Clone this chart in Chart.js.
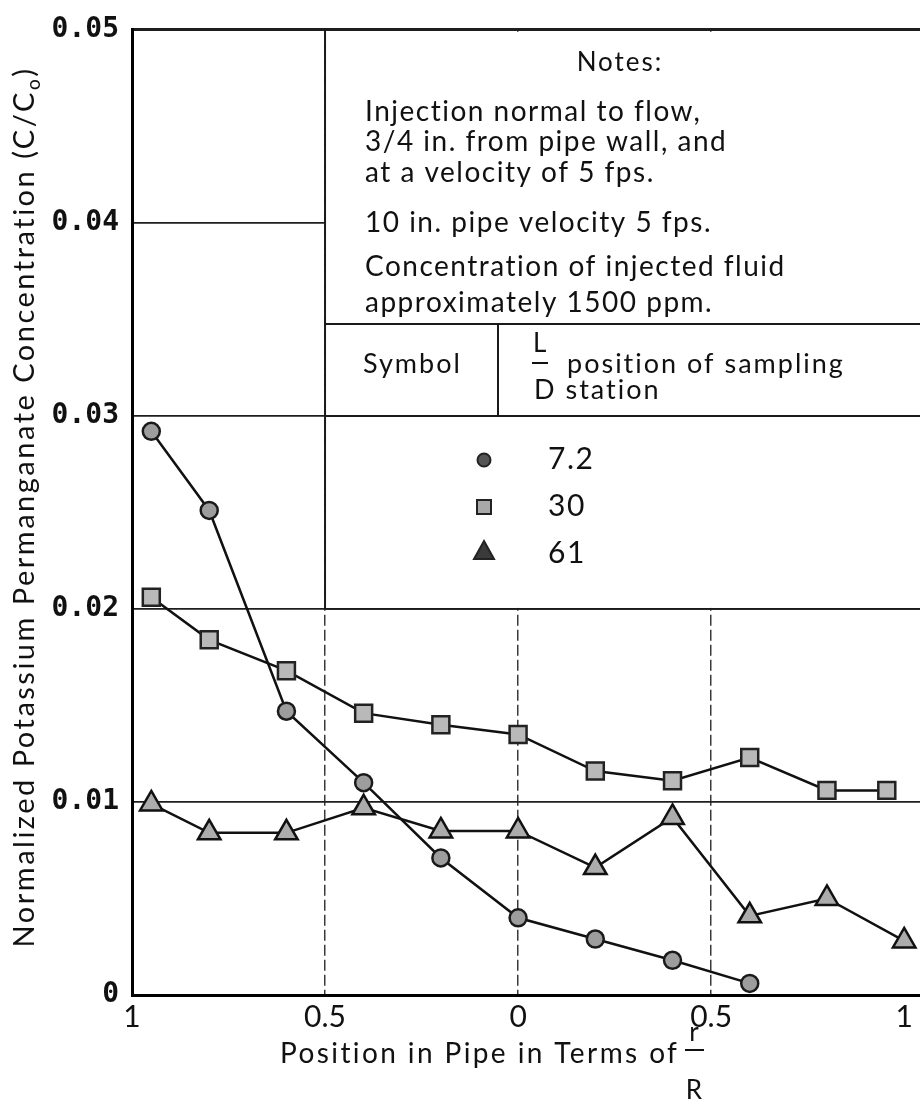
<!DOCTYPE html>
<html>
<head>
<meta charset="utf-8">
<script src="https://cdn.jsdelivr.net/npm/chart.js@4.4.1/dist/chart.umd.min.js"></script>
<style>
  html, body { margin: 0; padding: 0; background: #fff; overflow: hidden; }
  #wrap { width: 920px; height: 1104px; }
  #myChart { display: block; }
</style>
</head>
<body>
<div id="wrap"><canvas id="myChart" width="920" height="1104"></canvas></div>
<script>
// Sampling positions (r/R, wall to wall) and normalized concentration C/Co per station
var xStation72 = [-0.95, -0.8, -0.6, -0.4, -0.2, 0, 0.2, 0.4, 0.6];
var cStation72 = [0.0292, 0.0251, 0.0147, 0.0110, 0.0071, 0.0040, 0.0029, 0.0018, 0.0006];

var xStation30 = [-0.95, -0.8, -0.6, -0.4, -0.2, 0, 0.2, 0.4, 0.6, 0.8, 0.955];
var cStation30 = [0.0206, 0.0184, 0.0168, 0.0146, 0.0140, 0.0135, 0.0116, 0.0111, 0.0123, 0.0106, 0.0106];

var xStation61 = [-0.95, -0.8, -0.6, -0.4, -0.2, 0, 0.2, 0.4, 0.6, 0.8, 1.0];
var cStation61 = [0.0099, 0.0084, 0.0084, 0.0097, 0.0085, 0.0085, 0.0066, 0.0092, 0.0041, 0.0050, 0.0028];

var stationLabels = ['7.2', '30', '61'];
var xTickText = { '-1': '1', '-0.5': '0.5', '0': '0', '0.5': '0.5', '1': '1' };

var noteLines = [
    'Injection normal to flow,',
    '3/4 in. from pipe wall, and',
    'at a velocity of 5 fps.',
    '10 in. pipe velocity 5 fps.',
    'Concentration of injected fluid',
    'approximately 1500 ppm.'
];

function toPoints(xs, ys) {
    return xs.map(function (x, i) { return { x: x, y: ys[i] }; });
}

var FONT = 'Lato, "Open Sans", sans-serif';

function drawText(ctx, s, x, y, size, align, spacing) {
    ctx.font = size + 'px ' + FONT;
    ctx.textAlign = align || 'left';
    ctx.textBaseline = 'alphabetic';
    ctx.letterSpacing = (spacing === undefined ? 2 : spacing) + 'px';
    ctx.fillText(s, x, y);
    ctx.letterSpacing = '0px';
}

// notes box, symbol table and axis titles
var paperNotes = {
    id: 'paperNotes',
    beforeDatasetsDraw: function (chart) {
        var ctx = chart.ctx;
        var xs = chart.scales.x, ys = chart.scales.y;
        var left = xs.getPixelForValue(-0.5);
        var right = chart.chartArea.right;
        var top = ys.getPixelForValue(0.05);
        var bottom = ys.getPixelForValue(0.02);
        var tableLine = ys.getPixelForValue(0.03);
        var headerLine = 324;
        var divider = 498;

        ctx.save();
        ctx.fillStyle = '#fff';
        ctx.fillRect(left, top + 2, right - left, bottom - top - 3);

        ctx.strokeStyle = '#1a1a1a';
        ctx.lineWidth = 2;
        ctx.beginPath();
        ctx.moveTo(left, top); ctx.lineTo(left, bottom);
        ctx.moveTo(left, headerLine); ctx.lineTo(right, headerLine);
        ctx.moveTo(left, tableLine); ctx.lineTo(right, tableLine);
        ctx.moveTo(divider, headerLine); ctx.lineTo(divider, tableLine);
        ctx.stroke();
        ctx.lineWidth = 1.8;
        ctx.beginPath();
        ctx.moveTo(left, bottom); ctx.lineTo(right, bottom);
        ctx.stroke();

        ctx.fillStyle = '#111';
        drawText(ctx, 'Notes:', 620, 71, 26, 'center');
        var baselines = [121, 151, 182, 232, 276, 312];
        noteLines.forEach(function (line, i) {
            drawText(ctx, line, 365, baselines[i], 28, 'left', 1.5);
        });

        drawText(ctx, 'Symbol', 363, 373, 27);
        drawText(ctx, 'L', 533, 352, 26, 'left', 0);
        ctx.fillRect(532, 362, 16, 2);
        drawText(ctx, 'position of sampling', 567, 373, 27);
        drawText(ctx, 'D station', 534, 399, 27);

        // legend symbols
        var symX = 484;
        var rows = [469, 516, 563];
        ctx.lineWidth = 2;
        ctx.strokeStyle = '#222';
        ctx.fillStyle = '#555';
        ctx.beginPath();
        ctx.arc(symX, rows[0] - 9, 6.5, 0, Math.PI * 2);
        ctx.fill(); ctx.stroke();
        ctx.fillStyle = '#a8a8a8';
        ctx.fillRect(symX - 7, rows[1] - 16, 14, 14);
        ctx.strokeRect(symX - 7, rows[1] - 16, 14, 14);
        ctx.fillStyle = '#3a3a3a';
        ctx.beginPath();
        ctx.moveTo(symX, rows[2] - 22);
        ctx.lineTo(symX + 10, rows[2] - 4);
        ctx.lineTo(symX - 10, rows[2] - 4);
        ctx.closePath();
        ctx.fill(); ctx.stroke();

        ctx.fillStyle = '#111';
        stationLabels.forEach(function (lab, i) {
            drawText(ctx, lab, 548, rows[i], 30, 'left', 1.5);
        });
        ctx.restore();
    },
    afterDraw: function (chart) {
        var ctx = chart.ctx;
        ctx.save();
        ctx.fillStyle = '#111';

        // x axis title with r/R fraction
        drawText(ctx, 'Position in Pipe in Terms of', 280, 1063, 28, 'left', 2.4);
        drawText(ctx, 'r', 694, 1041, 26, 'center', 0);
        ctx.fillRect(685, 1049, 19, 2);
        drawText(ctx, 'R', 694, 1099, 26, 'center', 0);

        // y axis title with subscript o
        var main = 'Normalized Potassium Permanganate Concentration (C/C';
        ctx.translate(34, 507);
        ctx.rotate(-Math.PI / 2);
        ctx.letterSpacing = '2.5px';
        ctx.font = '29px ' + FONT;
        var w1 = ctx.measureText(main).width;
        ctx.font = '19px ' + FONT;
        var w2 = ctx.measureText('o').width;
        ctx.font = '29px ' + FONT;
        var w3 = ctx.measureText(')').width;
        var start = -(w1 + w2 + w3) / 2;
        drawText(ctx, main, start, 0, 29, 'left', 2.5);
        drawText(ctx, 'o', start + w1, 6, 19, 'left', 2.5);
        drawText(ctx, ')', start + w1 + w2, 0, 29, 'left', 2.5);
        ctx.restore();
    }
};

var ctx = document.getElementById('myChart').getContext('2d');
var chart = new Chart(ctx, {
    type: 'scatter',
    data: {
        datasets: [{
            label: stationLabels[0],
            data: toPoints(xStation72, cStation72),
            showLine: true,
            borderColor: '#111',
            borderWidth: 2.5,
            pointStyle: 'circle',
            pointRadius: 8.5,
            pointBackgroundColor: '#9d9d9d',
            pointBorderColor: '#1a1a1a',
            pointBorderWidth: 2.5,
            clip: false
        }, {
            label: stationLabels[1],
            data: toPoints(xStation30, cStation30),
            showLine: true,
            borderColor: '#111',
            borderWidth: 2.5,
            pointStyle: 'rect',
            pointRadius: 12,
            pointBackgroundColor: '#b9b9b9',
            pointBorderColor: '#222',
            pointBorderWidth: 2.5,
            clip: false
        }, {
            label: stationLabels[2],
            data: toPoints(xStation61, cStation61),
            showLine: true,
            borderColor: '#111',
            borderWidth: 2.5,
            pointStyle: 'triangle',
            pointRadius: 13,
            pointBackgroundColor: '#acacac',
            pointBorderColor: '#111',
            pointBorderWidth: 2.5,
            clip: false
        }]
    },
    options: {
        responsive: false,
        animation: false,
        layout: {
            autoPadding: false, // plot runs to the right edge of the canvas
            padding: { top: 29, right: 0, bottom: 0, left: 0 }
        },
        scales: {
            x: {
                type: 'linear',
                min: -1,
                max: 1.041,
                afterFit: function (s) {
                    s.height = 109;
                    s.paddingLeft = 0;
                    s.paddingRight = 0;
                },
                ticks: {
                    stepSize: 0.5,
                    includeBounds: false,
                    padding: 4,
                    color: '#111',
                    font: { family: FONT, size: 30 },
                    callback: function (v) { return xTickText[String(v)]; }
                },
                grid: {
                    drawTicks: false,
                    lineWidth: 1.5,
                    color: function (c) {
                        var v = c.tick && c.tick.value;
                        return (v === -1 || v === 1) ? 'rgba(0,0,0,0)' : '#3a3a3a';
                    }
                },
                border: { display: true, color: '#000', width: 3, dash: [11, 4] }
            },
            y: {
                min: 0,
                max: 0.05,
                afterFit: function (s) { s.width = 132; },
                ticks: {
                    stepSize: 0.01,
                    padding: 13,
                    color: '#111',
                    font: { family: '"DejaVu Sans Mono", monospace', size: 28, weight: 'bold' },
                    callback: function (v) { return v === 0 ? '0' : v.toFixed(2); }
                },
                grid: {
                    drawTicks: false,
                    color: '#1e1e1e',
                    lineWidth: function (c) {
                        var v = c.tick && c.tick.value;
                        return (v !== undefined && Math.abs(v - 0.05) < 1e-9) ? 3 : 1.8;
                    }
                },
                border: { display: true, color: '#000', width: 3 }
            }
        },
        plugins: {
            legend: { display: false },
            tooltip: { enabled: false }
        }
    },
    plugins: [paperNotes]
});
</script>
</body>
</html>
